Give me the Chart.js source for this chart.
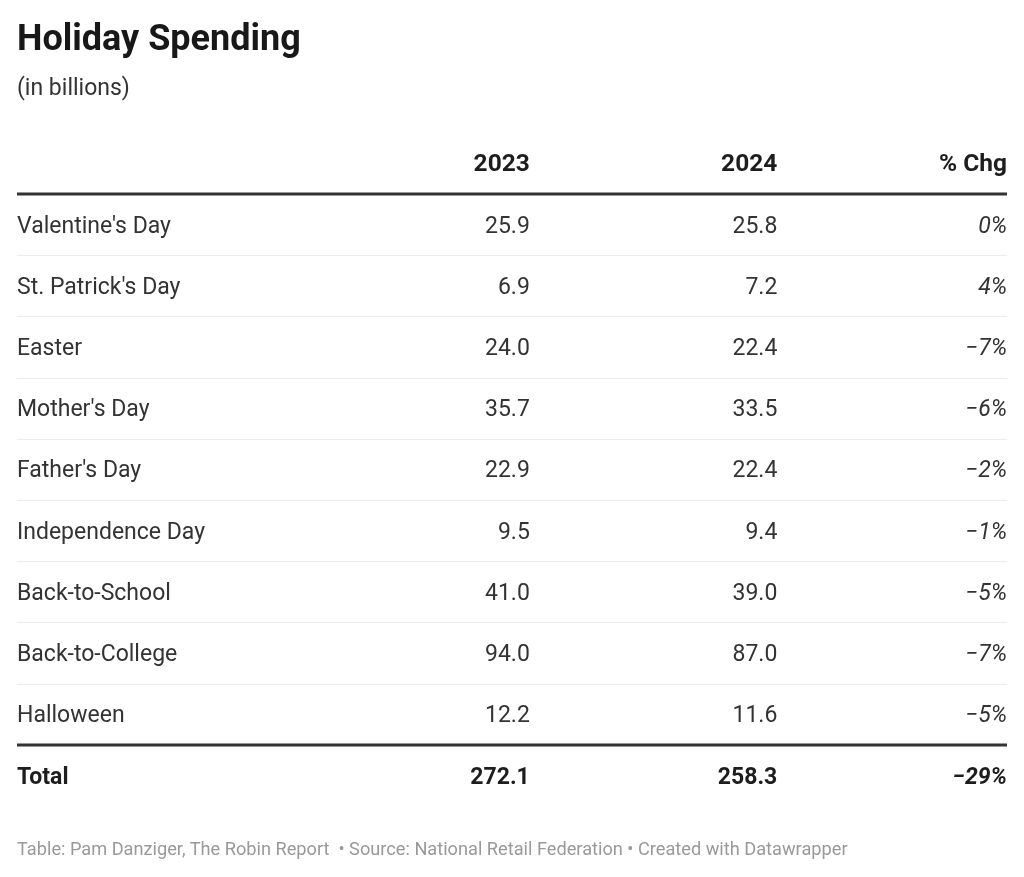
<!DOCTYPE html>
<html>
<head>
<meta charset="utf-8">
<script src="https://cdn.jsdelivr.net/npm/chart.js@4.4.1/dist/chart.umd.min.js"></script>
<style>
  body { margin: 0; background: #fff; }
  #wrap { position: relative; width: 1024px; height: 877px; font-family: Roboto, sans-serif; }
  #wrap canvas { position: absolute; left: 0; top: 0; }
  .title { position: absolute; left: 17px; top: 20px; font-size: 36px; line-height: 36px; font-weight: 700; color: #181818; }
  .subtitle { position: absolute; left: 17px; top: 76px; font-size: 23px; line-height: 23px; color: #333; }
  .footer { position: absolute; left: 17px; top: 840px; font-size: 18.2px; line-height: 18px; color: #999; white-space: pre; }
</style>
</head>
<body>
<div id="wrap">
  <canvas id="table" width="1024" height="877"></canvas>
  <div class="title">Holiday Spending</div>
  <div class="subtitle">(in billions)</div>
  <div class="footer">Table: Pam Danziger, The Robin Report  • Source: National Retail Federation • Created with Datawrapper</div>
</div>
<script>
// table data
const headers = ['', '2023', '2024', '% Chg'];
const holidays = ["Valentine's Day", "St. Patrick's Day", 'Easter', "Mother's Day", "Father's Day",
  'Independence Day', 'Back-to-School', 'Back-to-College', 'Halloween'];
const spend2023 = [25.9, 6.9, 24.0, 35.7, 22.9, 9.5, 41.0, 94.0, 12.2];
const spend2024 = [25.8, 7.2, 22.4, 33.5, 22.4, 9.4, 39.0, 87.0, 11.6];
const pctChg = [0, 4, -7, -6, -2, -1, -5, -7, -5];
const totalLabel = 'Total';
const totals = [272.1, 258.3, -29];

// where each column sits on the x scale (0 = left edge, 1 = right edge)
const colAnchor = [0, 0.518, 0.768, 1];

const fmtNum = v => v.toFixed(1);
const fmtPct = v => (v < 0 ? '\u2212' : '') + Math.abs(v) + '%';

// one dataset per column: header row (-1), body rows, total row
const columns = [
  [headers[0]].concat(holidays, [totalLabel]),
  [headers[1]].concat(spend2023.map(fmtNum), [fmtNum(totals[0])]),
  [headers[2]].concat(spend2024.map(fmtNum), [fmtNum(totals[1])]),
  [headers[3]].concat(pctChg.map(fmtPct), [fmtPct(totals[2])])
];
const lastRow = holidays.length;

const datasets = columns.map((texts, c) => ({
  label: headers[c],
  texts: texts,
  data: texts.map((t, i) => ({ x: colAnchor[c], y: i - 1 })),
  pointRadius: 0,
  showLine: false
}));

const tablePlugin = {
  id: 'tableCells',
  beforeDatasetsDraw(chart) {
    const ctx = chart.ctx;
    const xs = chart.scales.x, ys = chart.scales.y;
    const left = xs.getPixelForValue(0), right = xs.getPixelForValue(1);
    ctx.save();
    // light separators between body rows
    ctx.strokeStyle = '#ececec';
    ctx.lineWidth = 1;
    for (let i = 0; i < lastRow - 1; i++) {
      const y = Math.round(ys.getPixelForValue(i + 0.5)) + 0.5;
      ctx.beginPath(); ctx.moveTo(left, y); ctx.lineTo(right, y); ctx.stroke();
    }
    // heavy rules under header and above total
    ctx.strokeStyle = '#333';
    ctx.lineWidth = 3;
    [-0.5, lastRow - 0.5].forEach(v => {
      const y = ys.getPixelForValue(v);
      ctx.beginPath(); ctx.moveTo(left, y); ctx.lineTo(right, y); ctx.stroke();
    });
    ctx.restore();
  },
  afterDatasetsDraw(chart) {
    const ctx = chart.ctx;
    ctx.save();
    ctx.textBaseline = 'alphabetic';
    chart.data.datasets.forEach((ds, c) => {
      const meta = chart.getDatasetMeta(c);
      meta.data.forEach((pt, i) => {
        const row = i - 1;
        const bold = row === -1 || row === lastRow;
        const italic = c === 3 && row !== -1;
        const size = row === -1 ? 24.5 : 23;
        ctx.font = (italic ? 'italic ' : '') + (bold ? '700 ' : '400 ') + size + 'px Roboto';
        ctx.fillStyle = bold ? '#1d1d1d' : '#333';
        ctx.textAlign = c === 0 ? 'left' : 'right';
        ctx.fillText(ds.texts[i], pt.x, pt.y + 8);
      });
    });
    ctx.restore();
  }
};

new Chart(document.getElementById('table'), {
  type: 'scatter',
  data: { datasets: datasets },
  options: {
    responsive: false,
    animation: false,
    devicePixelRatio: 1,
    layout: { padding: { left: 17, right: 17, top: 163.3, bottom: 877 - 775.5 } },
    scales: {
      x: { type: 'linear', min: 0, max: 1, display: false },
      y: { type: 'linear', min: -1, max: lastRow, reverse: true, display: false }
    },
    plugins: { legend: { display: false }, tooltip: { enabled: false } }
  },
  plugins: [tablePlugin]
});
</script>
</body>
</html>
